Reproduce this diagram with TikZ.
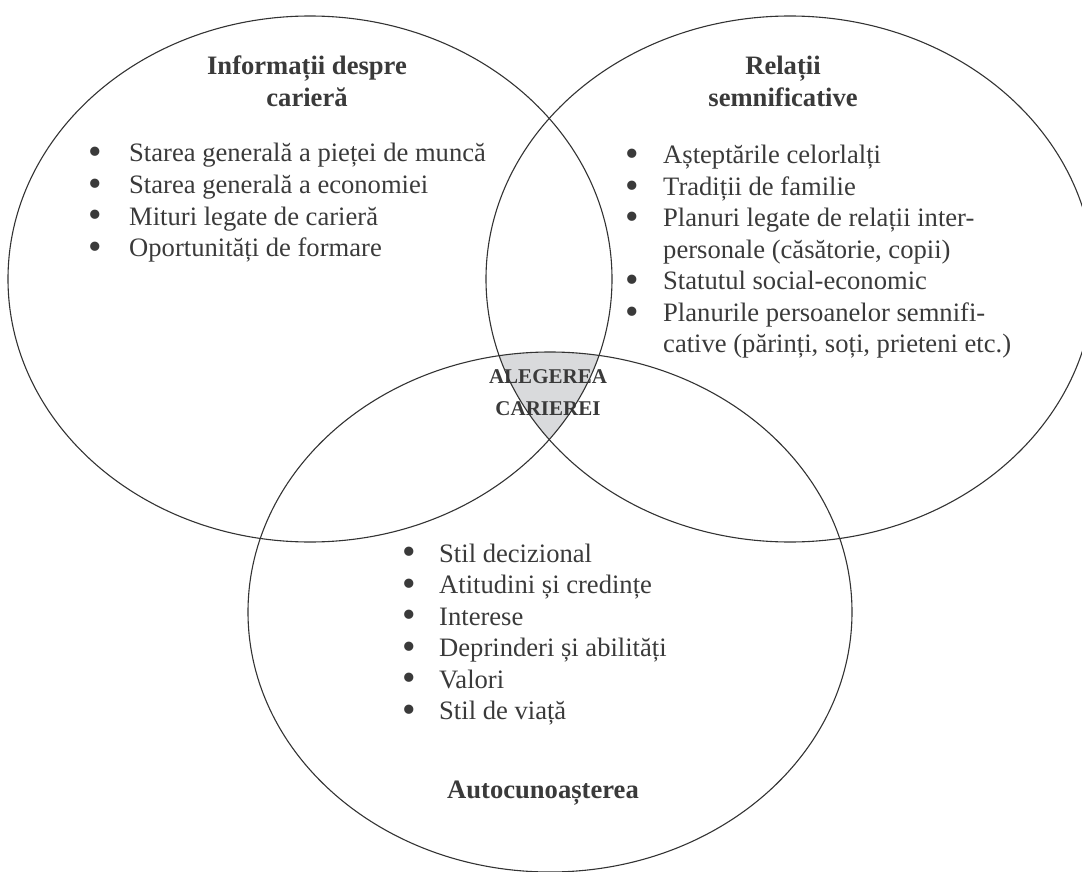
\documentclass[tikz,border=0pt]{standalone}
\usepackage{fontspec}
\setmainfont{Liberation Serif}
\definecolor{ink}{HTML}{3A3A3A}
\definecolor{linecol}{HTML}{333333}
\definecolor{shadecol}{HTML}{D9DADC}
\newcommand{\itm}[1]{\makebox[#1][l]{\raisebox{-2.6pt}{\scalebox{1.45}{\textbullet}}}}
\begin{document}
\begin{tikzpicture}[x=1pt,y=-1pt,
  ring/.style={draw=linecol,line width=1.1pt},
  listtext/.style={inner sep=0pt,text=ink,font=\fontsize{26.6}{31.5}\selectfont,anchor=base west},
  headtext/.style={inner sep=0pt,text=ink,font=\fontsize{26.6}{32}\selectfont\bfseries,anchor=base},
  centertext/.style={inner sep=0pt,text=ink,font=\fontsize{21}{32}\selectfont\bfseries,anchor=base}]
\useasboundingbox (0,0) rectangle (1082,872);
\clip (0,0) rectangle (1082,872);
% shaded common region
\begin{scope}
  \clip (310,279) ellipse [x radius=302, y radius=263];
  \clip (790,279) ellipse [x radius=304, y radius=263];
  \fill[shadecol] (550,612) ellipse [x radius=302, y radius=260];
\end{scope}
% texts
\node[headtext] (infohead) at (307,75) {\begin{tabular}[t]{@{}c@{}}Informații despre\\ carieră\end{tabular}};
\node[headtext] (relhead) at (783,75) {\begin{tabular}[t]{@{}c@{}}Relații\\ semnificative\end{tabular}};
\node[headtext] (autohead) at (543,798) {Autocunoașterea};
\node[centertext] (center) at (548,383) {\begin{tabular}[t]{@{}c@{}}ALEGEREA\\ CARIEREI\end{tabular}};
\node[listtext] (infolist) at (88.5,162) {\begin{tabular}[t]{@{}l@{}}
\itm{40.5pt}Starea generală a pieței de muncă\\
\itm{40.5pt}Starea generală a economiei\\
\itm{40.5pt}Mituri legate de carieră\\
\itm{40.5pt}Oportunități de formare
\end{tabular}};
\node[listtext] (rellist) at (625.5,164) {\begin{tabular}[t]{@{}l@{}}
\itm{37.5pt}Așteptările celorlalți\\
\itm{37.5pt}Tradiții de familie\\
\itm{37.5pt}Planuri legate de relații inter-\\
\hspace*{37.5pt}personale (căsătorie, copii)\\
\itm{37.5pt}Statutul social-economic\\
\itm{37.5pt}Planurile persoanelor semnifi-\\
\hspace*{37.5pt}cative (părinți, soți, prieteni etc.)
\end{tabular}};
\node[listtext] (autolist) at (402.5,562) {\begin{tabular}[t]{@{}l@{}}
\itm{36.5pt}Stil decizional\\
\itm{36.5pt}Atitudini și credințe\\
\itm{36.5pt}Interese\\
\itm{36.5pt}Deprinderi și abilități\\
\itm{36.5pt}Valori\\
\itm{36.5pt}Stil de viață
\end{tabular}};
% circles
\draw[ring] (310,279) ellipse [x radius=302, y radius=263];
\draw[ring] (790,279) ellipse [x radius=304, y radius=263];
\draw[ring] (550,612) ellipse [x radius=302, y radius=260];
\end{tikzpicture}
\end{document}
